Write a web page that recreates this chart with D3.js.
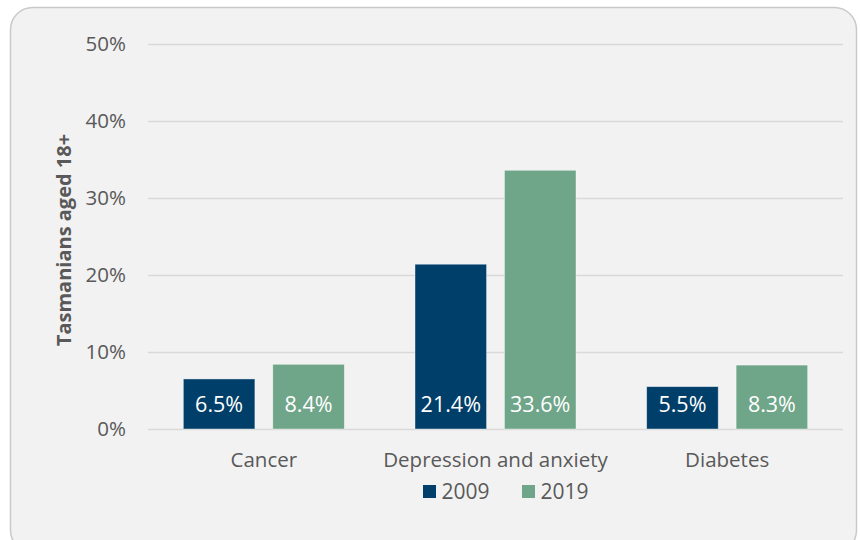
<!DOCTYPE html>
<html>
<head>
<meta charset="utf-8">
<script src="https://cdn.jsdelivr.net/npm/d3@7"></script>
<style>
  html, body { margin: 0; padding: 0; background: #fff; }
  svg { display: block; font-family: "Open Sans", sans-serif; }
</style>
</head>
<body>
<svg id="chart" width="860" height="540"></svg>
<script>
// data
const categories = ['Cancer', 'Depression and anxiety', 'Diabetes'];
const years = ['2009', '2019'];
const values2009 = [6.5, 21.4, 5.5];
const values2019 = [8.4, 33.6, 8.3];
const yTicks = [0, 10, 20, 30, 40, 50];

const COLORS = { '2009': '#003f69', '2019': '#6fa589' };
const TEXT = '#595959';

const svg = d3.select('#chart');
const W = 860, H = 540;
const m = { t: 44, r: 17, b: 111, l: 148 };
const innerW = W - m.l - m.r, innerH = H - m.t - m.b;

// card background
svg.append('rect')
  .attr('x', 10.5).attr('y', 7.5)
  .attr('width', 846).attr('height', 545)
  .attr('rx', 22).attr('ry', 22)
  .attr('fill', '#f2f2f2')
  .attr('stroke', '#c9c9c9').attr('stroke-width', 1.5);

const g = svg.append('g').attr('transform', `translate(${m.l},${m.t})`);

const x0 = d3.scaleBand().domain(categories).range([0, innerW]).padding(0);
const x1 = d3.scaleBand().domain(years).range([0, x0.bandwidth()])
  .paddingInner(0.2).paddingOuter(0.395);
const y = d3.scaleLinear().domain([0, 50]).range([innerH, 0]);

// gridlines
g.append('g')
  .call(d3.axisLeft(y).tickValues(yTicks).tickSize(-innerW).tickFormat(''))
  .call(a => a.select('.domain').remove())
  .selectAll('line').attr('stroke', '#d9d9d9').attr('stroke-width', 1.5);

// tick labels
g.append('g')
  .call(d3.axisLeft(y).tickValues(yTicks).tickSize(0).tickPadding(22).tickFormat(d => d + '%'))
  .call(a => a.select('.domain').remove())
  .selectAll('text')
    .attr('fill', TEXT).style('font-size', '20.5px')
    .style('font-family', '"Open Sans", sans-serif');

const rows = categories.map((c, i) => ({ cat: c, vals: [
  { year: '2009', value: values2009[i] },
  { year: '2019', value: values2019[i] }
]}));

const grp = g.selectAll('.grp').data(rows).join('g')
  .attr('class', 'grp')
  .attr('transform', d => `translate(${x0(d.cat)},0)`);

grp.selectAll('rect').data(d => d.vals).join('rect')
  .attr('x', d => x1(d.year))
  .attr('y', d => y(d.value))
  .attr('width', x1.bandwidth())
  .attr('height', d => innerH - y(d.value))
  .attr('fill', d => COLORS[d.year])
  .attr('stroke', '#ffffff').attr('stroke-opacity', 0.5).attr('stroke-width', 0.8);

grp.selectAll('text.val').data(d => d.vals).join('text')
  .attr('class', 'val')
  .attr('x', d => x1(d.year) + x1.bandwidth() / 2)
  .attr('y', innerH - 17.5)
  .attr('text-anchor', 'middle')
  .attr('fill', '#fff').attr('font-size', 21.5)
  .text(d => d.value.toFixed(1) + '%');

// category axis
g.append('g').attr('transform', `translate(0,${innerH})`)
  .call(d3.axisBottom(x0).tickSize(0))
  .call(a => a.select('.domain').remove())
  .selectAll('text')
    .attr('y', 38).attr('dy', 0)
    .attr('fill', TEXT).style('font-size', '20.5px')
    .style('font-family', '"Open Sans", sans-serif');

// y title
svg.append('text')
  .attr('transform', 'translate(71,240) rotate(-90)')
  .attr('text-anchor', 'middle')
  .attr('fill', TEXT).attr('font-size', 20).attr('font-weight', 700)
  .text('Tasmanians aged 18+');

// legend
const lg = svg.append('g').attr('transform', 'translate(423,485)');
const items = lg.selectAll('g').data(years).join('g')
  .attr('transform', (d, i) => `translate(${i * 99},0)`);
items.append('rect').attr('width', 13).attr('height', 13).attr('fill', d => COLORS[d]);
items.append('text').attr('x', 18.5).attr('y', 14)
  .attr('fill', TEXT).attr('font-size', 21).text(d => d);
</script>
</body>
</html>
